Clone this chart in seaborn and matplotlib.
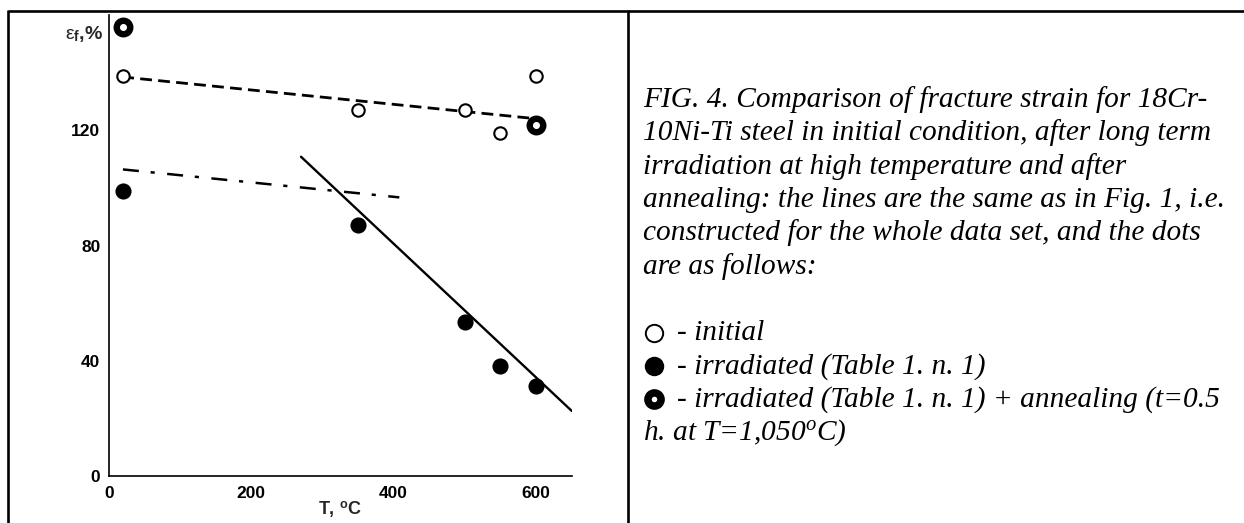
import numpy as np
import pandas as pd
import matplotlib
matplotlib.use('Agg')
import matplotlib.pyplot as plt
from matplotlib.lines import Line2D
from matplotlib.ticker import MultipleLocator
import seaborn as sns

# data
T_initial = [20, 350, 500, 550, 600]
eps_initial = [139, 127, 127, 119, 139]
T_irr = [20, 350, 500, 550, 600]
eps_irr = [99, 87, 53.3, 38.2, 31.2]
T_ann = [20, 600]
eps_ann = [155.7, 121.7]

# fitted lines (end points)
T_dash = [19, 600]
eps_dash = [138.5, 124]
T_dashdot = [20, 408]
eps_dashdot = [106.4, 96.7]
T_solid = [270, 650]
eps_solid = [110.8, 22.6]

caption = [
    'FIG. 4. Comparison of fracture strain for 18Cr-',
    '10Ni-Ti steel in initial condition, after long term',
    'irradiation at high temperature and after',
    'annealing: the lines are the same as in Fig. 1, i.e.',
    'constructed for the whole data set, and the dots',
    'are as follows:',
]
legend_text = [
    '- initial',
    '- irradiated (Table 1. n. 1)',
    '- irradiated (Table 1. n. 1) + annealing (t=0.5',
]
last_line = r'h. at T=1,050$^{o}$C)'

sns.set_style('white')
plt.rcParams['font.family'] = ['Liberation Sans', 'DejaVu Sans']
plt.rcParams['mathtext.fontset'] = 'custom'
plt.rcParams['mathtext.rm'] = 'Liberation Sans'
plt.rcParams['mathtext.bf'] = 'Liberation Sans:bold'
plt.rcParams['mathtext.it'] = 'Liberation Serif:italic'
plt.rcParams['lines.scale_dashes'] = False

W, H = 1244, 523
fig = plt.figure(figsize=(W / 100, H / 100), dpi=100)
ax = fig.add_axes([108.7 / W, (H - 476) / H, 463 / W, 461 / H])

sns.lineplot(x=T_dash, y=eps_dash, ax=ax, color='black', lw=2.0,
             linestyle=(0, (8.5, 4.5)), estimator=None, sort=False)
sns.lineplot(x=T_dashdot, y=eps_dashdot, ax=ax, color='black', lw=1.8,
             linestyle=(0, (11.5, 8.5, 3, 9)), estimator=None, sort=False)
sns.lineplot(x=T_solid, y=eps_solid, ax=ax, color='black', lw=1.7,
             estimator=None, sort=False)

sns.scatterplot(x=T_initial, y=eps_initial, ax=ax, s=80, color='white',
                edgecolor='black', linewidth=1.5, zorder=5)
sns.scatterplot(x=T_irr, y=eps_irr, ax=ax, s=135, color='black',
                linewidth=0, zorder=5)
sns.scatterplot(x=T_ann, y=eps_ann, ax=ax, s=95, color='white',
                edgecolor='black', linewidth=4.6, zorder=6)

ax.set_xlim(0, 650)
ax.set_ylim(0, 160)
sns.despine(ax=ax)
for s in ['left', 'bottom']:
    ax.spines[s].set_linewidth(1.2)
    ax.spines[s].set_color('black')

ax.xaxis.set_major_locator(MultipleLocator(200))
ax.xaxis.set_minor_locator(MultipleLocator(100))
ax.yaxis.set_major_locator(MultipleLocator(40))
ax.yaxis.set_minor_locator(MultipleLocator(20))
ax.tick_params(which='both', direction='in', width=1.1, color='black',
               labelsize=12.5, labelcolor='black')
ax.tick_params(which='major', length=11.5)
ax.tick_params(which='minor', length=6)
ax.tick_params(axis='x', pad=7)
ax.tick_params(axis='y', pad=6)
ax.set_xticks([0, 200, 400, 600])
ax.set_xticklabels(['0', '200', '400', '600'], fontweight='bold')
ax.set_yticks([0, 40, 80, 120])
ax.set_yticklabels(['0', '40', '80', '120'], fontweight='bold')

ax.set_xlabel(r'T, $^{\mathbf{o}}$C', fontsize=13, fontweight='bold')
ax.xaxis.set_label_coords(0.5, -0.052)
ax.set_ylabel('')
ax.text(-0.012, 153.3, r'$\mathrm{\varepsilon}_{\mathbf{f}}$,%', fontsize=14,
        fontweight='bold', ha='right', va='center',
        transform=ax.get_yaxis_transform())

# frame
def fig_line(xs, ys, lw=1.9):
    fig.add_artist(Line2D([x / W for x in xs], [1 - y / H for y in ys],
                          transform=fig.transFigure, color='black', lw=lw,
                          solid_capstyle='butt'))

fig_line([8.3, W], [10.7, 10.7])
fig_line([8.3, 8.3], [9.8, H])
fig_line([627.5, 627.5], [9.8, H])

# caption
x0 = 643
base0 = 107
step = 33.3
cap_kw = dict(family='Liberation Serif', style='italic', fontsize=21.2,
              va='baseline', ha='left', color='black')
for i, line in enumerate(caption):
    fig.text(x0 / W, 1 - (base0 + step * i) / H, line, **cap_kw)

marker_styles = [
    dict(marker='o', ms=12.5, mfc='white', mec='black', mew=1.4),
    dict(marker='o', ms=14.0, mfc='black', mec='black', mew=0),
    dict(marker='o', ms=9.5, mfc='white', mec='black', mew=5.4),
]
for i, (txt, mk) in enumerate(zip(legend_text, marker_styles)):
    b = base0 + step * (i + 7)
    fig.add_artist(Line2D([654 / W], [1 - (b - 7.5) / H],
                          transform=fig.transFigure, ls='none', **mk))
    fig.text(677 / W, 1 - b / H, txt, **cap_kw)
fig.text(x0 / W, 1 - (base0 + step * 10) / H, last_line, **cap_kw)

fig.savefig('out.png', dpi=100)
